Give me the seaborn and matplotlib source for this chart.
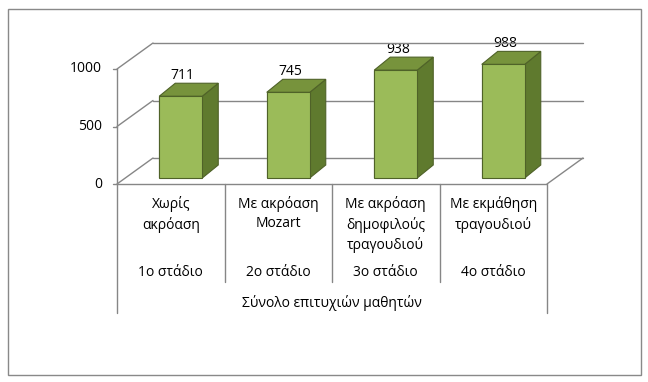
import numpy as np
import matplotlib
matplotlib.use("Agg")
import matplotlib.pyplot as plt
from matplotlib.patches import Polygon, Rectangle
from matplotlib.lines import Line2D
from matplotlib.transforms import IdentityTransform
import seaborn as sns

# ── Data ──────────────────────────────────────────────────────────────────────
categories = ["Χωρίς\nακρόαση", "Με ακρόαση\nMozart",
              "Με ακρόαση\nδημοφιλούς\nτραγουδιού", "Με εκμάθηση\nτραγουδιού"]
stages = ["1ο στάδιο", "2ο στάδιο", "3ο στάδιο", "4ο στάδιο"]
values = [711, 745, 938, 988]
group_label = "Σύνολο επιτυχιών μαθητών"
y_ticks = [0, 500, 1000]

# ── Style ─────────────────────────────────────────────────────────────────────
FRONT = "#9bbb59"
TOP = "#77933c"
SIDE = "#5f7a2e"
EDGE = "#4f6228"
LINE = "#868686"
W, H = 648, 382

sns.set_theme(style="white")
plt.rcParams["font.family"] = ["Open Sans", "DejaVu Sans"]

fig = plt.figure(figsize=(W / 100, H / 100), dpi=100)
fig.patch.set_facecolor("white")
# axes = plane of the bars' front faces (pixels: x 127..557, y 63..178 from top)
ax = fig.add_axes([127 / W, (H - 178) / H, 430 / W, 115 / H])
ax.set_facecolor("none")

sns.barplot(x=list(range(len(values))), y=values, ax=ax, color=FRONT,
            width=0.4, edgecolor=EDGE, linewidth=0.8, saturation=1, zorder=3)
ax.set_xlim(-0.5, len(values) - 0.5)
ax.set_ylim(0, 1000)
ax.axis("off")

FRONT_OFF = (-10, -6)   # front edge of the floor, relative to bar plane
BACK_OFF = (26, 20)     # back wall
BAR_OFF = (16, 13)      # bar depth
ID = IdentityTransform()


def P(x, y, off=(0, 0)):
    px, py = ax.transData.transform((x, y))
    return (px + off[0], py + off[1])


def line(p1, p2, z=1, color=LINE, lw=1.0):
    fig.add_artist(Line2D([p1[0], p2[0]], [p1[1], p2[1]], color=color, lw=lw,
                          transform=ID, zorder=z))


x0, x1 = -0.5, len(values) - 0.5
# back wall gridlines + side wall gridlines
for t in y_ticks:
    line(P(x0, t, BACK_OFF), P(x1, t, BACK_OFF))
    line(P(x0, t, FRONT_OFF), P(x0, t, BACK_OFF))
# floor
line(P(x0, 0, FRONT_OFF), P(x1, 0, FRONT_OFF))
line(P(x1, 0, FRONT_OFF), P(x1, 0, BACK_OFF))
# vertical value axis and ticks
line(P(x0, 0, FRONT_OFF), P(x0, 1000, FRONT_OFF))
for t in y_ticks:
    px, py = P(x0, t, FRONT_OFF)
    line((px - 4, py), (px, py))
    fig.text(px - 15, py, f"{t}", transform=ID, ha="right", va="center",
             fontsize=10, color="black")

# 3D faces of the bars
for bar in ax.patches:
    bx0 = bar.get_x()
    bx1 = bx0 + bar.get_width()
    h = bar.get_height()
    top = [P(bx0, h), P(bx1, h), P(bx1, h, BAR_OFF), P(bx0, h, BAR_OFF)]
    side = [P(bx1, 0), P(bx1, h), P(bx1, h, BAR_OFF), P(bx1, 0, BAR_OFF)]
    for pts, c in ((side, SIDE), (top, TOP)):
        fig.add_artist(Polygon(pts, closed=True, facecolor=c, edgecolor=EDGE,
                               lw=0.8, transform=ID, zorder=2))
    ax.annotate(f"{int(h)}", ((bx0 + bx1) / 2, h), xytext=(2, 13),
                textcoords="offset pixels", ha="center", va="bottom",
                fontsize=10, color="black", annotation_clip=False, zorder=5)
    bar.set_zorder(3)
    fig.add_artist(Rectangle((P(bx0, 0)[0], P(bx0, 0)[1]), P(bx1, 0)[0] - P(bx0, 0)[0],
                             P(bx0, h)[1] - P(bx0, 0)[1], facecolor=FRONT,
                             edgecolor=EDGE, lw=0.8, transform=ID, zorder=3))

# category table below the floor
floor_y = P(x0, 0, FRONT_OFF)[1]
for i in range(len(values) + 1):
    px = P(x0 + i, 0, FRONT_OFF)[0]
    end = H - 313 if i in (0, len(values)) else H - 282
    line((px, floor_y), (px, end))
for i, (cat, st) in enumerate(zip(categories, stages)):
    px = P(i, 0, FRONT_OFF)[0]
    fig.text(px, H - 196, cat, transform=ID, ha="center", va="top",
             fontsize=10, linespacing=1.38, color="black")
    fig.text(px, H - 273, st, transform=ID, ha="center", va="center",
             fontsize=10, color="black")
mid = (P(x0, 0, FRONT_OFF)[0] + P(x1, 0, FRONT_OFF)[0]) / 2
fig.text(mid, H - 303, group_label, transform=ID, ha="center", va="center",
         fontsize=10, color="black")

# chart-area border
fig.add_artist(Rectangle((8, 7), 633, 366, fill=False, edgecolor="#898989",
                         lw=1.0, transform=ID, zorder=0))

fig.savefig("out.png", dpi=100, facecolor="white")
